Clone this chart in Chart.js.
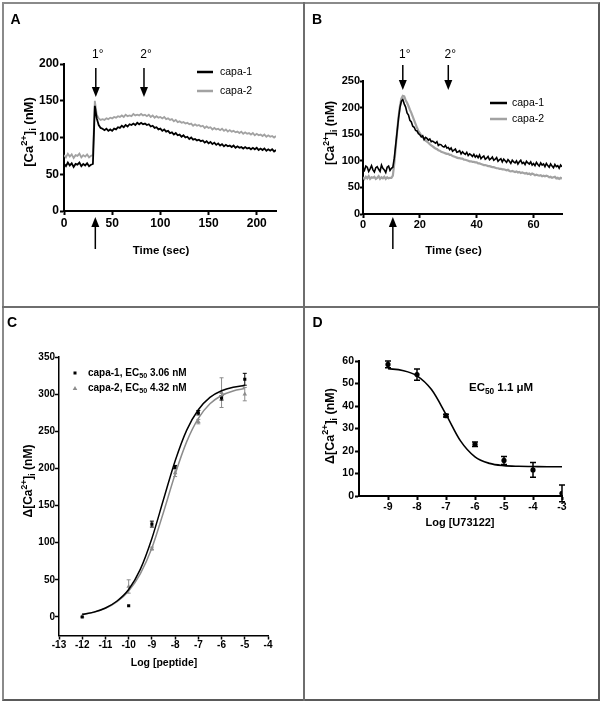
<!DOCTYPE html>
<html><head><meta charset="utf-8">
<script src="https://cdn.jsdelivr.net/npm/chart.js@4.4.0/dist/chart.umd.min.js"></script>
<style>
html,body{margin:0;padding:0;background:#fff;}
#page{position:relative;width:603px;height:704px;overflow:hidden;background:#fff;}
.frame{position:absolute;box-sizing:border-box;}
canvas{position:absolute;left:0;top:0;}
</style></head><body>
<div id="page">
<div class="frame" style="left:2px;top:2px;width:598px;height:699px;border:2px solid #8a8a8a;border-right-color:#5a5a5a;border-bottom-color:#5a5a5a;"></div>
<div class="frame" style="left:303px;top:2px;width:2px;height:699px;background:#6e6e6e;"></div>
<div class="frame" style="left:2px;top:306px;width:598px;height:2px;background:#6e6e6e;"></div>
<canvas id="cA" width="603" height="704"></canvas>
<canvas id="cB" width="603" height="704"></canvas>
<canvas id="cC" width="603" height="704"></canvas>
<canvas id="cD" width="603" height="704"></canvas>
</div>
<script>
// ================= DATA =================
// Panel A : [Ca2+]i traces, sampled every 2 s from 0 to 220 s
const aSeriesNames = ['capa-1', 'capa-2'];
const aTimeStep = 2;
const aCapa1 = [64,61,66,62,65,60,64,63,66,61,64,62,65,61,63,64,
143,
126,117,113,112,110,112,109,111,109,112,111,114,113,116,114,117,115,118,117,119,117,120,118,120,118,119,117,118,115,116,113,114,111,112,
109,111,108,109,106,107,104,106,103,104,101,103,100,101,98,100,97,98,96,97,95,96,93,95,92,94,91,93,90,92,89,91,88,90,88,89,87,89,86,88,86,87,85,87,85,86,84,86,84,86,83,85,83,85,82,84,82,84,81,83];
const aCapa2 = [76,73,78,74,77,72,76,75,78,73,76,74,77,73,75,76,
150,
131,126,124,125,124,126,125,127,126,128,127,129,128,130,128,131,129,130,129,132,130,131,130,132,130,131,129,131,128,130,127,129,127,128,
126,128,125,126,124,125,122,124,121,122,120,121,119,120,118,119,116,118,116,117,115,116,113,115,113,114,111,113,111,112,110,112,109,111,108,110,108,109,107,108,106,108,105,107,105,106,104,106,103,105,103,104,102,104,101,103,101,102,100,102];
const aXTicks = [0, 50, 100, 150, 200];
const aYTicks = [0, 50, 100, 150, 200];
const aArrowTimes = [33, 83];
const aArrowLabels = ['1°', '2°'];
const aAddTime = 32.5;

// Panel B : [Ca2+]i traces, sampled every 0.5 s from 0 to 70 s
const bSeriesNames = ['capa-1', 'capa-2'];
const bTimeStep = 0.5;
const bCapa1 = [86,82,90,88,80,85,91,83,79,87,
89,84,80,92,86,83,78,88,90,82,
86,88,105,130,155,180,200,212,215,207,
201,190,186,176,173,165,163,157,156,151,
149,145,147,140,144,142,139,141,136,137,
135,133,136,129,131,130,127,126,129,124,
125,121,124,118,120,122,116,117,119,113,
117,114,112,116,110,113,111,108,112,107,
110,106,111,104,107,109,103,105,108,102,
104,107,101,103,106,99,102,104,98,103,
100,97,102,99,95,101,98,96,100,94,
98,101,95,97,93,99,96,94,98,92,
95,91,97,93,90,96,92,94,89,95,
91,88,94,90,87,93,89,91,86,92,
89];
const bCapa2 = [69,66,70,67,71,66,69,68,70,66,
68,71,66,69,67,70,66,69,67,68,
68,72,95,125,155,182,203,217,222,221,
214,209,203,196,190,183,176,169,162,156,
152,148,145,141,138,136,134,131,129,127,
125,123,122,120,119,117,116,115,114,113,
113,111,111,109,108,107,106,105,105,104,
104,102,102,101,100,99,99,98,98,97,
97,95,95,94,93,92,92,91,90,90,
89,88,88,87,86,86,85,85,84,84,
83,82,83,81,80,81,80,79,80,78,
79,77,78,77,76,77,75,76,74,76,
75,73,74,73,72,73,71,72,71,72,
71,69,70,68,69,70,67,68,66,68,
67];
const bXTicks = [0, 20, 40, 60];
const bYTicks = [0, 50, 100, 150, 200, 250];
const bArrowTimes = [14, 30];
const bArrowLabels = ['1°', '2°'];
const bAddTime = 10.5;

// Panel C : dose response (log [peptide])
const cDoses = [-12, -10, -9, -8, -7, -6, -5];
const cCapa1 = [0, 15, 125, 202, 275, 295, 320];
const cCapa1Err = [0, 0, 4, 2, 3, 3, 8];
const cCapa2 = [1, 41, 92, 194, 263, 302, 300];
const cCapa2Err = [0, 9, 2, 5, 3, 20, 9];
const cFitX = [-12, -11.5, -11, -10.5, -10, -9.5, -9, -8.5, -8, -7.5, -7, -6.5, -6, -5.5, -5];
const cFit1 = [3.5, 6.5, 12, 21.5, 37, 64, 105.7, 158.1, 210, 251.6, 279, 295.6, 304.5, 309.2, 311.6];
const cFit2 = [3.5, 6.3, 11.5, 20.5, 35, 58, 92.8, 141, 192.2, 236.1, 267.4, 287, 298.2, 304.3, 307.5];
const cLegend = ['capa-1, EC', '50', ' 3.06 nM', 'capa-2, EC', '50', ' 4.32 nM'];
const cXTicks = [-13, -12, -11, -10, -9, -8, -7, -6, -5, -4];
const cYTicks = [0, 50, 100, 150, 200, 250, 300, 350];

// Panel D : inhibition (log [U73122])
const dDoses = [-9, -8, -7, -6, -5, -4, -3];
const dResp = [58.5, 54, 35.7, 23, 15.8, 11.6, 1.2];
const dErr = [1.5, 2.5, 0.6, 1, 1.8, 3.3, 3.7];
const dFitX = [-9, -8.5, -8, -7.5, -7, -6.5, -6, -5.5, -5, -4.5, -4, -3.5, -3];
const dFit = [56.6, 55.8, 53.4, 47.3, 36.3, 24.5, 17.4, 14.5, 13.5, 13.2, 13.1, 13.0, 13.0];
const dXTicks = [-9, -8, -7, -6, -5, -4, -3];
const dYTicks = [0, 10, 20, 30, 40, 50, 60];

// ================= HELPERS =================
const FONT = "'Liberation Sans', Arial, Helvetica, sans-serif";
const BLACK = '#000000', GREY = '#a2a2a2', GREY_C = '#8c8c8c';
const W = 603, H = 704;

function pts(vals, step) { return vals.map((v, i) => ({x: i * step, y: v})); }
function xy(xs, ys) { return xs.map((x, i) => ({x: x, y: ys[i]})); }

function axis(o, size) {
  return {
    type: 'linear', min: o.min, max: o.max,
    afterBuildTicks: s => { s.ticks = o.ticks.map(v => ({value: v})); },
    afterFit: s => { if (s.isHorizontal()) s.height = size; else s.width = size; },
    grid: {display: true, drawOnChartArea: false, drawTicks: true, tickLength: o.tl, tickWidth: o.lw, tickColor: '#000'},
    border: {display: true, color: '#000', width: o.lw},
    ticks: {color: '#000', padding: o.pad, autoSkip: false, maxRotation: 0, minRotation: 0,
      font: {family: FONT, size: o.fs, weight: 'bold'}, callback: v => String(v)}
  };
}
function makeOpts(area, xo, yo) {
  return {
    responsive: false, animation: false, devicePixelRatio: 1, events: [],
    layout: {padding: {left: 0, top: area[1], right: W - area[2], bottom: 0}},
    plugins: {legend: {display: false}, tooltip: {enabled: false}, title: {display: false}},
    scales: {x: axis(xo, H - area[3]), y: axis(yo, area[0])}
  };
}
function richWidth(ctx, parts, size, weight) {
  let w = 0;
  for (const p of parts) { const s = p[1] ? size * 0.72 : size; ctx.font = weight + ' ' + s + 'px ' + FONT; w += ctx.measureText(p[0]).width; }
  return w;
}
function drawRich(ctx, parts, x, y, size, weight, align, color) {
  const w = richWidth(ctx, parts, size, weight);
  let cx = align === 'center' ? x - w / 2 : (align === 'right' ? x - w : x);
  ctx.fillStyle = color; ctx.textBaseline = 'middle'; ctx.textAlign = 'left';
  for (const p of parts) {
    const mode = p[1] || 0; const s = mode ? size * 0.72 : size;
    ctx.font = weight + ' ' + s + 'px ' + FONT;
    const dy = mode === 1 ? -size * 0.36 : (mode === 2 ? size * 0.3 : 0);
    ctx.fillText(p[0], cx, y + dy);
    cx += ctx.measureText(p[0]).width;
  }
}
function drawRotated(ctx, parts, x, y, size, weight) {
  ctx.save(); ctx.translate(x, y); ctx.rotate(-Math.PI / 2);
  drawRich(ctx, parts, 0, 0, size, weight, 'center', '#000');
  ctx.restore();
}
function arrow(ctx, x, yTail, yTip, lw, headL, headW) {
  const dir = Math.sign(yTip - yTail);
  ctx.strokeStyle = '#000'; ctx.lineWidth = lw;
  ctx.beginPath(); ctx.moveTo(x, yTail); ctx.lineTo(x, yTip - dir * headL * 0.7); ctx.stroke();
  ctx.fillStyle = '#000'; ctx.beginPath();
  ctx.moveTo(x, yTip); ctx.lineTo(x - headW / 2, yTip - dir * headL); ctx.lineTo(x + headW / 2, yTip - dir * headL);
  ctx.closePath(); ctx.fill();
}
function errBars(ctx, chart, xs, ys, es, color, lw, cap) {
  const X = chart.scales.x, Y = chart.scales.y;
  ctx.strokeStyle = color; ctx.lineWidth = lw;
  xs.forEach((x, i) => {
    if (!es[i]) return;
    const px = X.getPixelForValue(x);
    const y1 = Y.getPixelForValue(ys[i] + es[i]), y2 = Y.getPixelForValue(ys[i] - es[i]);
    ctx.beginPath();
    ctx.moveTo(px, y1); ctx.lineTo(px, y2);
    ctx.moveTo(px - cap / 2, y1); ctx.lineTo(px + cap / 2, y1);
    ctx.moveTo(px - cap / 2, y2); ctx.lineTo(px + cap / 2, y2);
    ctx.stroke();
  });
}
function letter(ctx, t, x, y) {
  ctx.fillStyle = '#000'; ctx.font = 'bold 14px ' + FONT; ctx.textAlign = 'center'; ctx.textBaseline = 'middle';
  ctx.fillText(t, x, y);
}
function legendLine(ctx, x1, x2, y, color, lw, label, tx, size) {
  ctx.strokeStyle = color; ctx.lineWidth = lw; ctx.beginPath(); ctx.moveTo(x1, y); ctx.lineTo(x2, y); ctx.stroke();
  ctx.fillStyle = '#000'; ctx.font = size + 'px ' + FONT; ctx.textAlign = 'left'; ctx.textBaseline = 'middle';
  ctx.fillText(label, tx, y);
}
const caTitle = [['[Ca', 0], ['2+', 1], [']', 0], ['i', 2], [' (nM)', 0]];
const dcaTitle = [['\u0394[Ca', 0], ['2+', 1], [']', 0], ['i', 2], [' (nM)', 0]];

// ================= PANEL A =================
new Chart(document.getElementById('cA'), {
  type: 'line',
  data: {datasets: [
    {label: aSeriesNames[0], data: pts(aCapa1, aTimeStep), borderColor: BLACK, borderWidth: 1.8, pointRadius: 0, tension: 0},
    {label: aSeriesNames[1], data: pts(aCapa2, aTimeStep), borderColor: GREY, borderWidth: 1.8, pointRadius: 0, tension: 0}
  ]},
  options: makeOpts([64, 64, 276, 211],
    {min: 0, max: 220, ticks: aXTicks, tl: 4, lw: 2, pad: 1.5, fs: 12},
    {min: 0, max: 200, ticks: aYTicks, tl: 4, lw: 2, pad: 1, fs: 12}),
  plugins: [{id: 'decoA', afterDraw(chart) {
    const ctx = chart.ctx, X = chart.scales.x; ctx.save();
    letter(ctx, 'A', 15.5, 20);
    aArrowTimes.forEach((t, i) => {
      const px = X.getPixelForValue(t);
      arrow(ctx, px, 68, 97, 1.5, 10, 8);
      ctx.fillStyle = '#000'; ctx.font = '12px ' + FONT; ctx.textAlign = 'center'; ctx.textBaseline = 'middle';
      ctx.fillText(aArrowLabels[i], px + 2, 55);
    });
    arrow(ctx, X.getPixelForValue(aAddTime), 249, 217, 1.5, 10, 8);
    legendLine(ctx, 197, 213, 72, BLACK, 2.5, aSeriesNames[0], 220, 10.5);
    legendLine(ctx, 197, 213, 91, GREY, 2.5, aSeriesNames[1], 220, 10.5);
    drawRich(ctx, [['Time (sec)', 0]], 161, 251, 11.5, 'bold', 'center', '#000');
    drawRotated(ctx, caTitle, 29.5, 132, 13, 'bold');
    ctx.restore();
  }}]
});

// ================= PANEL B =================
new Chart(document.getElementById('cB'), {
  type: 'line',
  data: {datasets: [
    {label: bSeriesNames[0], data: pts(bCapa1, bTimeStep), borderColor: BLACK, borderWidth: 1.6, pointRadius: 0, tension: 0},
    {label: bSeriesNames[1], data: pts(bCapa2, bTimeStep), borderColor: GREY, borderWidth: 2.2, pointRadius: 0, tension: 0}
  ]},
  options: makeOpts([363, 81, 562, 214],
    {min: 0, max: 70, ticks: bXTicks, tl: 4, lw: 2, pad: 0.5, fs: 11},
    {min: 0, max: 250, ticks: bYTicks, tl: 3, lw: 2, pad: 0, fs: 11}),
  plugins: [{id: 'decoB', afterDraw(chart) {
    const ctx = chart.ctx, X = chart.scales.x; ctx.save();
    letter(ctx, 'B', 317, 20);
    bArrowTimes.forEach((t, i) => {
      const px = X.getPixelForValue(t);
      arrow(ctx, px, 65, 90, 1.5, 10, 8);
      ctx.fillStyle = '#000'; ctx.font = '12px ' + FONT; ctx.textAlign = 'center'; ctx.textBaseline = 'middle';
      ctx.fillText(bArrowLabels[i], px + 2, 55);
    });
    arrow(ctx, X.getPixelForValue(bAddTime), 249, 217, 1.5, 10, 8);
    legendLine(ctx, 490, 507, 103, BLACK, 2.5, bSeriesNames[0], 512, 10.5);
    legendLine(ctx, 490, 507, 119, GREY, 2.5, bSeriesNames[1], 512, 10.5);
    drawRich(ctx, [['Time (sec)', 0]], 453.5, 251, 11.5, 'bold', 'center', '#000');
    drawRotated(ctx, caTitle, 331, 133, 12, 'bold');
    ctx.restore();
  }}]
});

// ================= PANEL C =================
new Chart(document.getElementById('cC'), {
  type: 'line',
  data: {datasets: [
    {label: 'capa-1 fit', data: xy(cFitX, cFit1), borderColor: BLACK, borderWidth: 1.5, pointRadius: 0, cubicInterpolationMode: 'monotone'},
    {label: 'capa-2 fit', data: xy(cFitX, cFit2), borderColor: GREY_C, borderWidth: 1.5, pointRadius: 0, cubicInterpolationMode: 'monotone'},
    {label: 'capa-1', data: xy(cDoses, cCapa1), showLine: false, pointStyle: 'rect', pointRadius: 2.2, backgroundColor: BLACK, borderColor: BLACK, borderWidth: 0},
    {label: 'capa-2', data: xy(cDoses, cCapa2), showLine: false, pointStyle: 'triangle', pointRadius: 2.6, backgroundColor: GREY_C, borderColor: GREY_C, borderWidth: 0}
  ]},
  options: makeOpts([59, 357, 268, 635.5],
    {min: -13, max: -4, ticks: cXTicks, tl: 4, lw: 1.5, pad: 0, fs: 10},
    {min: -25, max: 350, ticks: cYTicks, tl: 4, lw: 1.5, pad: 0, fs: 10}),
  plugins: [{id: 'decoC',
    beforeDatasetsDraw(chart) {
      const ctx = chart.ctx; ctx.save();
      errBars(ctx, chart, cDoses, cCapa2, cCapa2Err, GREY_C, 1, 4);
      errBars(ctx, chart, cDoses, cCapa1, cCapa1Err, BLACK, 1, 4);
      ctx.restore();
    },
    afterDraw(chart) {
      const ctx = chart.ctx; ctx.save();
      letter(ctx, 'C', 12, 323);
      ctx.fillStyle = BLACK; ctx.fillRect(73.5, 371.5, 3, 3);
      ctx.fillStyle = GREY_C; ctx.beginPath(); ctx.moveTo(75, 386); ctx.lineTo(72.7, 390); ctx.lineTo(77.3, 390); ctx.closePath(); ctx.fill();
      drawRich(ctx, [[cLegend[0], 0], [cLegend[1], 2], [cLegend[2], 0]], 88, 373, 10, 'bold', 'left', '#000');
      drawRich(ctx, [[cLegend[3], 0], [cLegend[4], 2], [cLegend[5], 0]], 88, 388, 10, 'bold', 'left', '#000');
      drawRich(ctx, [['Log [peptide]', 0]], 164, 663, 10.5, 'bold', 'center', '#000');
      drawRotated(ctx, dcaTitle, 29, 481, 12, 'bold');
      ctx.restore();
    }}]
});

// ================= PANEL D =================
new Chart(document.getElementById('cD'), {
  type: 'line',
  data: {datasets: [
    {label: 'fit', data: xy(dFitX, dFit), borderColor: BLACK, borderWidth: 1.6, pointRadius: 0, cubicInterpolationMode: 'monotone'},
    {label: 'U73122', data: xy(dDoses, dResp), showLine: false, pointStyle: 'circle', pointRadius: 2.6, backgroundColor: BLACK, borderColor: BLACK, borderWidth: 0}
  ]},
  options: makeOpts([359, 361, 562, 496],
    {min: -10, max: -3, ticks: dXTicks, tl: 4, lw: 2, pad: 1.2, fs: 10.5},
    {min: 0, max: 60, ticks: dYTicks, tl: 4, lw: 2, pad: 1, fs: 10.5}),
  plugins: [{id: 'decoD',
    beforeDatasetsDraw(chart) {
      const ctx = chart.ctx; ctx.save();
      errBars(ctx, chart, dDoses, dResp, dErr, BLACK, 1.5, 6);
      ctx.restore();
    },
    afterDraw(chart) {
      const ctx = chart.ctx; ctx.save();
      letter(ctx, 'D', 317.5, 323.5);
      drawRich(ctx, [['EC', 0], ['50', 2], [' 1.1 \u03BCM', 0]], 469, 388, 11.5, 'bold', 'left', '#000');
      drawRich(ctx, [['Log [U73122]', 0]], 460, 523, 11, 'bold', 'center', '#000');
      drawRotated(ctx, dcaTitle, 330.5, 426, 12.5, 'bold');
      ctx.restore();
    }}]
});
</script>
</body></html>
